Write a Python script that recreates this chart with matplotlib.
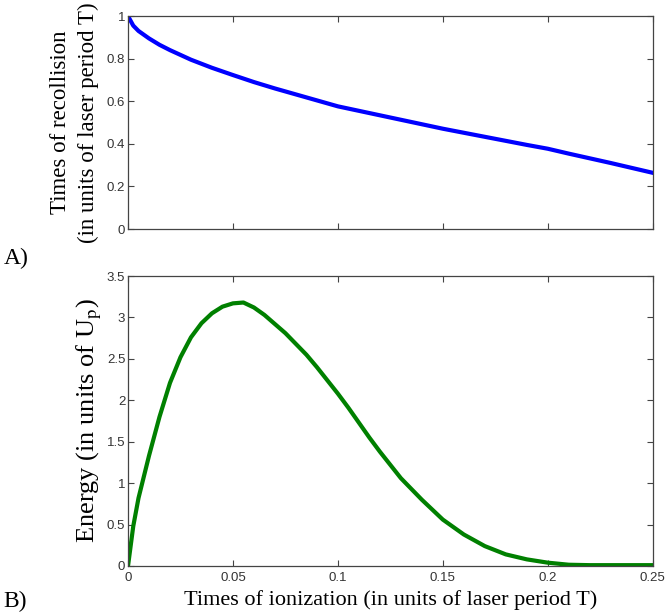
import numpy as np
import matplotlib
matplotlib.use("Agg")
import matplotlib.pyplot as plt

# recollision time vs ionization time (units of T)
t_ion_a = [0, 0.0025, 0.005, 0.01, 0.015, 0.02, 0.03, 0.04, 0.05, 0.06, 0.07, 0.08, 0.09, 0.10,
           0.11, 0.12, 0.13, 0.14, 0.15, 0.16, 0.17, 0.18, 0.19, 0.20, 0.21, 0.22, 0.23, 0.24, 0.25]
t_rec = [1.0, 0.955, 0.93, 0.895, 0.865, 0.84, 0.795, 0.757, 0.723, 0.69, 0.66, 0.632, 0.604, 0.576,
         0.555, 0.534, 0.513, 0.492, 0.471, 0.452, 0.433, 0.414, 0.395, 0.377, 0.354, 0.332, 0.31, 0.287, 0.264]

# return energy (units of Up) vs ionization time
t_ion_b = [0, 0.0025, 0.005, 0.01, 0.015, 0.02, 0.025, 0.03, 0.035, 0.04, 0.045, 0.05, 0.055,
           0.06, 0.065, 0.07, 0.075, 0.08, 0.085, 0.09, 0.095, 0.1, 0.105, 0.11, 0.115, 0.12,
           0.13, 0.14, 0.15, 0.16, 0.17, 0.18, 0.19, 0.2, 0.21, 0.22, 0.25]
energy = [0, 0.48, 0.82, 1.33, 1.80, 2.21, 2.52, 2.76, 2.93, 3.05, 3.13, 3.17, 3.18,
          3.12, 3.03, 2.92, 2.81, 2.68, 2.55, 2.40, 2.24, 2.08, 1.91, 1.73, 1.55, 1.38,
          1.06, 0.80, 0.56, 0.38, 0.24, 0.14, 0.08, 0.04, 0.015, 0.01, 0.01]

xticks = [0, 0.05, 0.1, 0.15, 0.2, 0.25]
xticklabels = ['0', '0.05', '0.1', '0.15', '0.2', '0.25']

plt.rcParams['mathtext.fontset'] = 'stix'
serif = 'Liberation Serif'
tickfont = 'Liberation Sans'

fig = plt.figure(figsize=(6.65, 6.15), dpi=100)
ax1 = fig.add_axes([0.1925, 0.6276, 0.789, 0.3463])
ax2 = fig.add_axes([0.1925, 0.0797, 0.789, 0.4715])

def style(ax):
    for s in ax.spines.values():
        s.set_color('#444444')
        s.set_linewidth(0.9)
    ax.tick_params(direction='in', top=True, right=True, length=4, width=0.8,
                   color='#444444', labelsize=9.5, labelcolor='#333333', pad=2)
    ax.tick_params(axis='x', pad=4)
    for lab in ax.get_xticklabels() + ax.get_yticklabels():
        lab.set_family(tickfont)

ax1.plot(t_ion_a, t_rec, color='#0000ff', lw=3)
ax1.set_xlim(0, 0.25)
ax1.set_ylim(0, 1)
ax1.set_xticks(xticks)
ax1.set_xticklabels([])
ax1.set_yticks([0, 0.2, 0.4, 0.6, 0.8, 1])
ax1.set_yticklabels(['0', '0.2', '0.4', '0.6', '0.8', '1'])
ax1.set_ylabel('Times of recollision\n(in units of laser period T)', family=serif,
               fontsize=16.5, linespacing=1.4, labelpad=6)
style(ax1)

ax2.plot(t_ion_b, energy, color='#008000', lw=3)
ax2.set_xlim(0, 0.25)
ax2.set_ylim(0, 3.5)
ax2.set_xticks(xticks)
ax2.set_xticklabels(xticklabels)
ax2.set_yticks([0, 0.5, 1, 1.5, 2, 2.5, 3, 3.5])
ax2.set_yticklabels(['0', '0.5', '1', '1.5', '2', '2.5', '3', '3.5'])
ax2.set_ylabel('Energy (in units of U$_\\mathrm{p}$)', family=serif, fontsize=19, labelpad=2)
ax2.set_xlabel('Times of ionization (in units of laser period T)', family=serif,
               fontsize=16, labelpad=5)
style(ax2)

fig.text(0.005, 0.58, 'A)', family=serif, fontsize=17, va='center')
fig.text(0.005, 0.022, 'B)', family=serif, fontsize=17, va='center')

fig.savefig('out.png', dpi=100)
